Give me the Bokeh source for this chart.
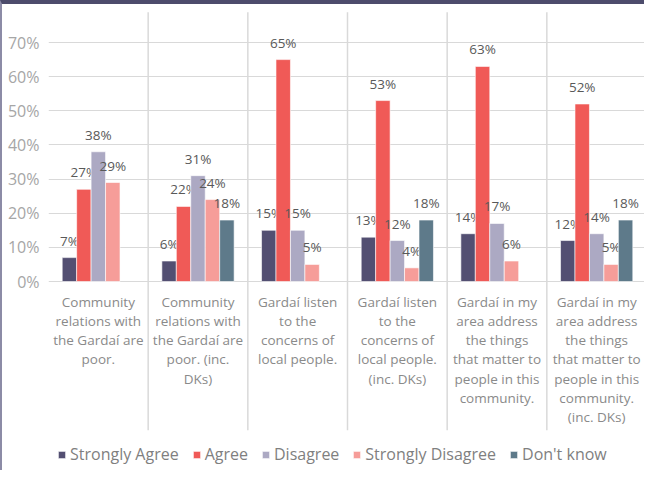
import numpy as np
from bokeh.plotting import figure
from bokeh.models import (ColumnDataSource, FactorRange, Range1d, FixedTicker,
                          PrintfTickFormatter, Legend, LegendItem)
from bokeh.transform import dodge
from bokeh.core.properties import value
from bokeh.embed import file_html
from bokeh.resources import INLINE

# ---------------- data ----------------
categories = [
    "Community relations with the Gardaí are poor.",
    "Community relations with the Gardaí are poor. (inc. DKs)",
    "Gardaí listen to the concerns of local people.",
    "Gardaí listen to the concerns of local people. (inc. DKs)",
    "Gardaí in my area address the things that matter to people in this community.",
    "Gardaí in my area address the things that matter to people in this community. (inc. DKs)",
]
category_labels = [
    "Community\nrelations with\nthe Gardaí are\npoor.",
    "Community\nrelations with\nthe Gardaí are\npoor. (inc.\nDKs)",
    "Gardaí listen\nto the\nconcerns of\nlocal people.",
    "Gardaí listen\nto the\nconcerns of\nlocal people.\n(inc. DKs)",
    "Gardaí in my\narea address\nthe things\nthat matter to\npeople in this\ncommunity.",
    "Gardaí in my\narea address\nthe things\nthat matter to\npeople in this\ncommunity.\n(inc. DKs)",
]
series_names = ["Strongly Agree", "Agree", "Disagree", "Strongly Disagree", "Don't know"]
strongly_agree = [7, 6, 15, 13, 14, 12]
agree = [27, 22, 65, 53, 63, 52]
disagree = [38, 31, 15, 12, 17, 14]
strongly_disagree = [29, 24, 5, 4, 6, 5]
dont_know = [None, 18, None, 18, None, 18]
series_values = [strongly_agree, agree, disagree, strongly_disagree, dont_know]
series_colors = ["#534F72", "#F05A57", "#ACA9C3", "#F69D99", "#5E7A8A"]
y_ticks = [0, 10, 20, 30, 40, 50, 60, 70]

# ---------------- figure ----------------
# canvas starts at (2, 4) because of the frame border
p = figure(width=644, height=470, x_range=FactorRange(*categories),
           y_range=Range1d(-56.53, 81.14), x_axis_location=None,
           output_backend="svg", toolbar_location=None,
           min_border_left=46, min_border_right=0, min_border_top=0, min_border_bottom=0)
p.styles = {"border-top": "4px solid #4D4C6C", "border-left": "2px solid #8C8BA6"}
p.outline_line_color = None
p.background_fill_color = "white"
p.border_fill_color = "white"
p.xgrid.grid_line_color = None
p.ygrid.grid_line_color = "#d9d9d9"
p.ygrid.grid_line_width = 1.2

ax = p.yaxis[0]
ax.ticker = FixedTicker(ticks=y_ticks)
ax.formatter = PrintfTickFormatter(format="%d%%")
ax.axis_line_color = None
ax.major_tick_line_color = None
ax.minor_tick_line_color = None
ax.major_label_standoff = 3
ax.major_label_text_font = "Open Sans"
ax.major_label_text_font_size = "16px"
ax.major_label_text_color = "#a6a6a6"

# category separators
sep_src = ColumnDataSource(dict(cat=categories[:-1]))
p.segment(x0=dodge("cat", 0.5, range=p.x_range), x1=dodge("cat", 0.5, range=p.x_range),
          y0=-43.6, y1=78.9, line_color="#d9d9d9", line_width=1.5, source=sep_src,
          level="underlay")

# category labels
lab_src = ColumnDataSource(dict(cat=categories, label=category_labels))
p.text(x="cat", y=0, text="label", source=lab_src, text_align="center",
       text_baseline="top", y_offset=11, text_line_height=1.07,
       text_font=value("Open Sans"), text_font_size="13.5px",
       text_color="#8a8a8a")

# bars
bar_w = 0.145
offsets = [-2 * bar_w, -bar_w, 0, bar_w, 2 * bar_w]
items = []
for name, vals, col, off in zip(series_names, series_values, series_colors, offsets):
    src = ColumnDataSource(dict(
        cat=categories,
        val=[np.nan if v is None else v for v in vals],
        label=["" if v is None else f"{v}%" for v in vals],
    ))
    r = p.vbar(x=dodge("cat", off, range=p.x_range), top="val", width=bar_w,
               fill_color=col, line_color="white", line_width=0.6, source=src)
    p.text(x=dodge("cat", off, range=p.x_range), y="val", text="label", source=src,
           text_align="center", text_baseline="middle", y_offset=-17,
           text_font=value("Open Sans"), text_font_size="13.5px", text_color="#595959")
    items.append(LegendItem(label=name, renderers=[r]))

legend = Legend(items=items, orientation="horizontal", location=(9, 9),
                spacing=13, label_standoff=4, glyph_width=9, glyph_height=9,
                padding=0, margin=0, border_line_color=None, background_fill_alpha=0,
                label_text_font="Open Sans", label_text_font_size="16px",
                label_text_color="#7f7f7f", label_height=16)
p.add_layout(legend, "center")

open("out.html", "w").write(file_html(p, INLINE))
